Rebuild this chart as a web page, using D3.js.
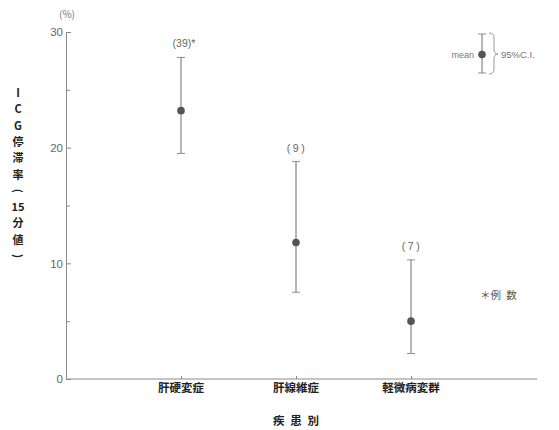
<!DOCTYPE html>
<html>
<head>
<meta charset="utf-8">
<script src="https://cdn.jsdelivr.net/npm/d3@7"></script>
<style>
  body { margin: 0; background: #fff; }
  svg text { font-family: "Noto Sans CJK JP", "Noto Sans", sans-serif; }
</style>
</head>
<body>
<svg id="chart"></svg>
<script>
const outerWidth = 559;
const outerHeight = 430;

// data
const categories = ["肝硬変症", "肝線維症", "軽微病変群"];
const means = [23.2, 11.8, 5.0];
const lower = [19.5, 7.5, 2.2];
const upper = [27.8, 18.8, 10.3];
const counts = ["(39)*", "(9)", "(7)"];
const majorTicks = [0, 10, 20, 30];
const minorTicks = [5, 15, 25];
const yLabel = ["I", "C", "G", "停", "滞", "率", "(", "15", "分", "値", ")"];

const axisColor = "#8a8a8a";
const barColor = "#8f8f8f";
const dotColor = "#555";

var svg = d3.select("#chart")
  .attr("width", outerWidth)
  .attr("height", outerHeight);

var x = d3.scalePoint().domain(categories).range([181, 411]);
var y = d3.scaleLinear().domain([0, 30]).range([379, 32]);

// y axis
var yAxis = svg.append("g").attr("transform", "translate(66,0)")
  .call(d3.axisLeft(y).tickValues(majorTicks).tickSize(-5).tickPadding(3).tickSizeOuter(0));
yAxis.select(".domain").attr("stroke", axisColor);
yAxis.selectAll(".tick line").attr("stroke", axisColor);
yAxis.selectAll(".tick text").attr("fill", "#666").style("font-size", "11.5px")
  .style("font-family", "Liberation Sans, sans-serif");

svg.append("g").attr("transform", "translate(66,0)")
  .call(d3.axisRight(y).tickValues(minorTicks).tickSize(4).tickFormat(""))
  .call(g => g.select(".domain").remove())
  .selectAll(".tick line").attr("stroke", axisColor);

// x axis
var xAxis = svg.append("g").attr("transform", "translate(0," + y(0) + ")")
  .call(d3.axisBottom(x).tickSize(-3).tickFormat(""));
xAxis.select(".domain").remove();
xAxis.selectAll(".tick line").attr("stroke", axisColor);
svg.append("line")
  .attr("x1", 66).attr("x2", 537)
  .attr("y1", y(0)).attr("y2", y(0))
  .attr("stroke", axisColor);

// category labels
svg.append("g").selectAll("text")
  .data(categories)
  .enter()
  .append("text")
  .attr("x", d => x(d))
  .attr("y", 392)
  .attr("text-anchor", "middle")
  .style("font-size", "11.5px")
  .style("font-weight", "bold")
  .attr("fill", "#222")
  .text(d => d);

svg.append("text")
  .attr("x", 296).attr("y", 425)
  .attr("text-anchor", "middle")
  .style("font-size", "11.5px")
  .style("font-weight", "bold")
  .attr("fill", "#222")
  .text("疾\u2002患\u2002別");

// unit
svg.append("text")
  .attr("x", 67).attr("y", 18)
  .attr("text-anchor", "middle")
  .style("font-size", "10px")
  .attr("fill", "#777")
  .text("(%)");

// vertical y label
svg.append("g").selectAll("text")
  .data(yLabel)
  .enter()
  .append("text")
  .attr("x", 18)
  .attr("y", (d, i) => 97 + i * 16.3)
  .attr("text-anchor", "middle")
  .style("font-size", "11px")
  .style("font-weight", "bold")
  .attr("fill", "#222")
  .attr("transform", (d, i) => (d === "(" || d === ")") ? "rotate(90,18," + (93 + i * 16.3) + ")" : null)
  .text(d => d);

// error bars
var bars = svg.append("g").selectAll("g")
  .data(categories)
  .enter()
  .append("g");

bars.append("line")
  .attr("x1", d => x(d)).attr("x2", d => x(d))
  .attr("y1", (d, i) => y(lower[i])).attr("y2", (d, i) => y(upper[i]))
  .attr("stroke", barColor).attr("stroke-width", 1.3);

bars.append("line")
  .attr("x1", d => x(d) - 4).attr("x2", d => x(d) + 4)
  .attr("y1", (d, i) => y(upper[i])).attr("y2", (d, i) => y(upper[i]))
  .attr("stroke", barColor);

bars.append("line")
  .attr("x1", d => x(d) - 4).attr("x2", d => x(d) + 4)
  .attr("y1", (d, i) => y(lower[i])).attr("y2", (d, i) => y(lower[i]))
  .attr("stroke", barColor);

bars.append("circle")
  .attr("cx", d => x(d))
  .attr("cy", (d, i) => y(means[i]))
  .attr("r", 3.8)
  .attr("fill", dotColor);

bars.append("text")
  .attr("x", (d, i) => x(d) + (i === 0 ? 3 : 1))
  .attr("y", (d, i) => y(upper[i]) - 10)
  .attr("text-anchor", "middle")
  .style("font-size", "10.5px")
  .style("letter-spacing", (d, i) => i === 0 ? "0px" : "2.5px")
  .style("font-family", "Liberation Sans, sans-serif")
  .attr("fill", "#666")
  .text((d, i) => counts[i]);

// legend
var lg = svg.append("g");
lg.append("line").attr("x1", 482).attr("x2", 482).attr("y1", 34).attr("y2", 73)
  .attr("stroke", barColor).attr("stroke-width", 1.3);
lg.append("line").attr("x1", 478).attr("x2", 486).attr("y1", 34).attr("y2", 34).attr("stroke", barColor);
lg.append("line").attr("x1", 478).attr("x2", 486).attr("y1", 73).attr("y2", 73).attr("stroke", barColor);
lg.append("circle").attr("cx", 482).attr("cy", 54.5).attr("r", 3.8).attr("fill", dotColor);
lg.append("text").attr("x", 474).attr("y", 58).attr("text-anchor", "end")
  .style("font-size", "9px").style("font-family", "Liberation Sans, sans-serif")
  .attr("fill", "#777").text("mean");
lg.append("path")
  .attr("d", "M489,33 Q494,33 494,38 L494,49 Q494,54 498,54 Q494,54 494,59 L494,69 Q494,74 489,74")
  .attr("fill", "none").attr("stroke", "#999").attr("stroke-width", 1);
lg.append("text").attr("x", 501).attr("y", 58)
  .style("font-size", "9.5px").style("font-family", "Liberation Sans, sans-serif")
  .attr("fill", "#777").text("95%C.I.");

svg.append("text")
  .attr("x", 480).attr("y", 299)
  .style("font-size", "10.5px")
  .attr("fill", "#555")
  .text("＊例\u2002数");
</script>
</body>
</html>
